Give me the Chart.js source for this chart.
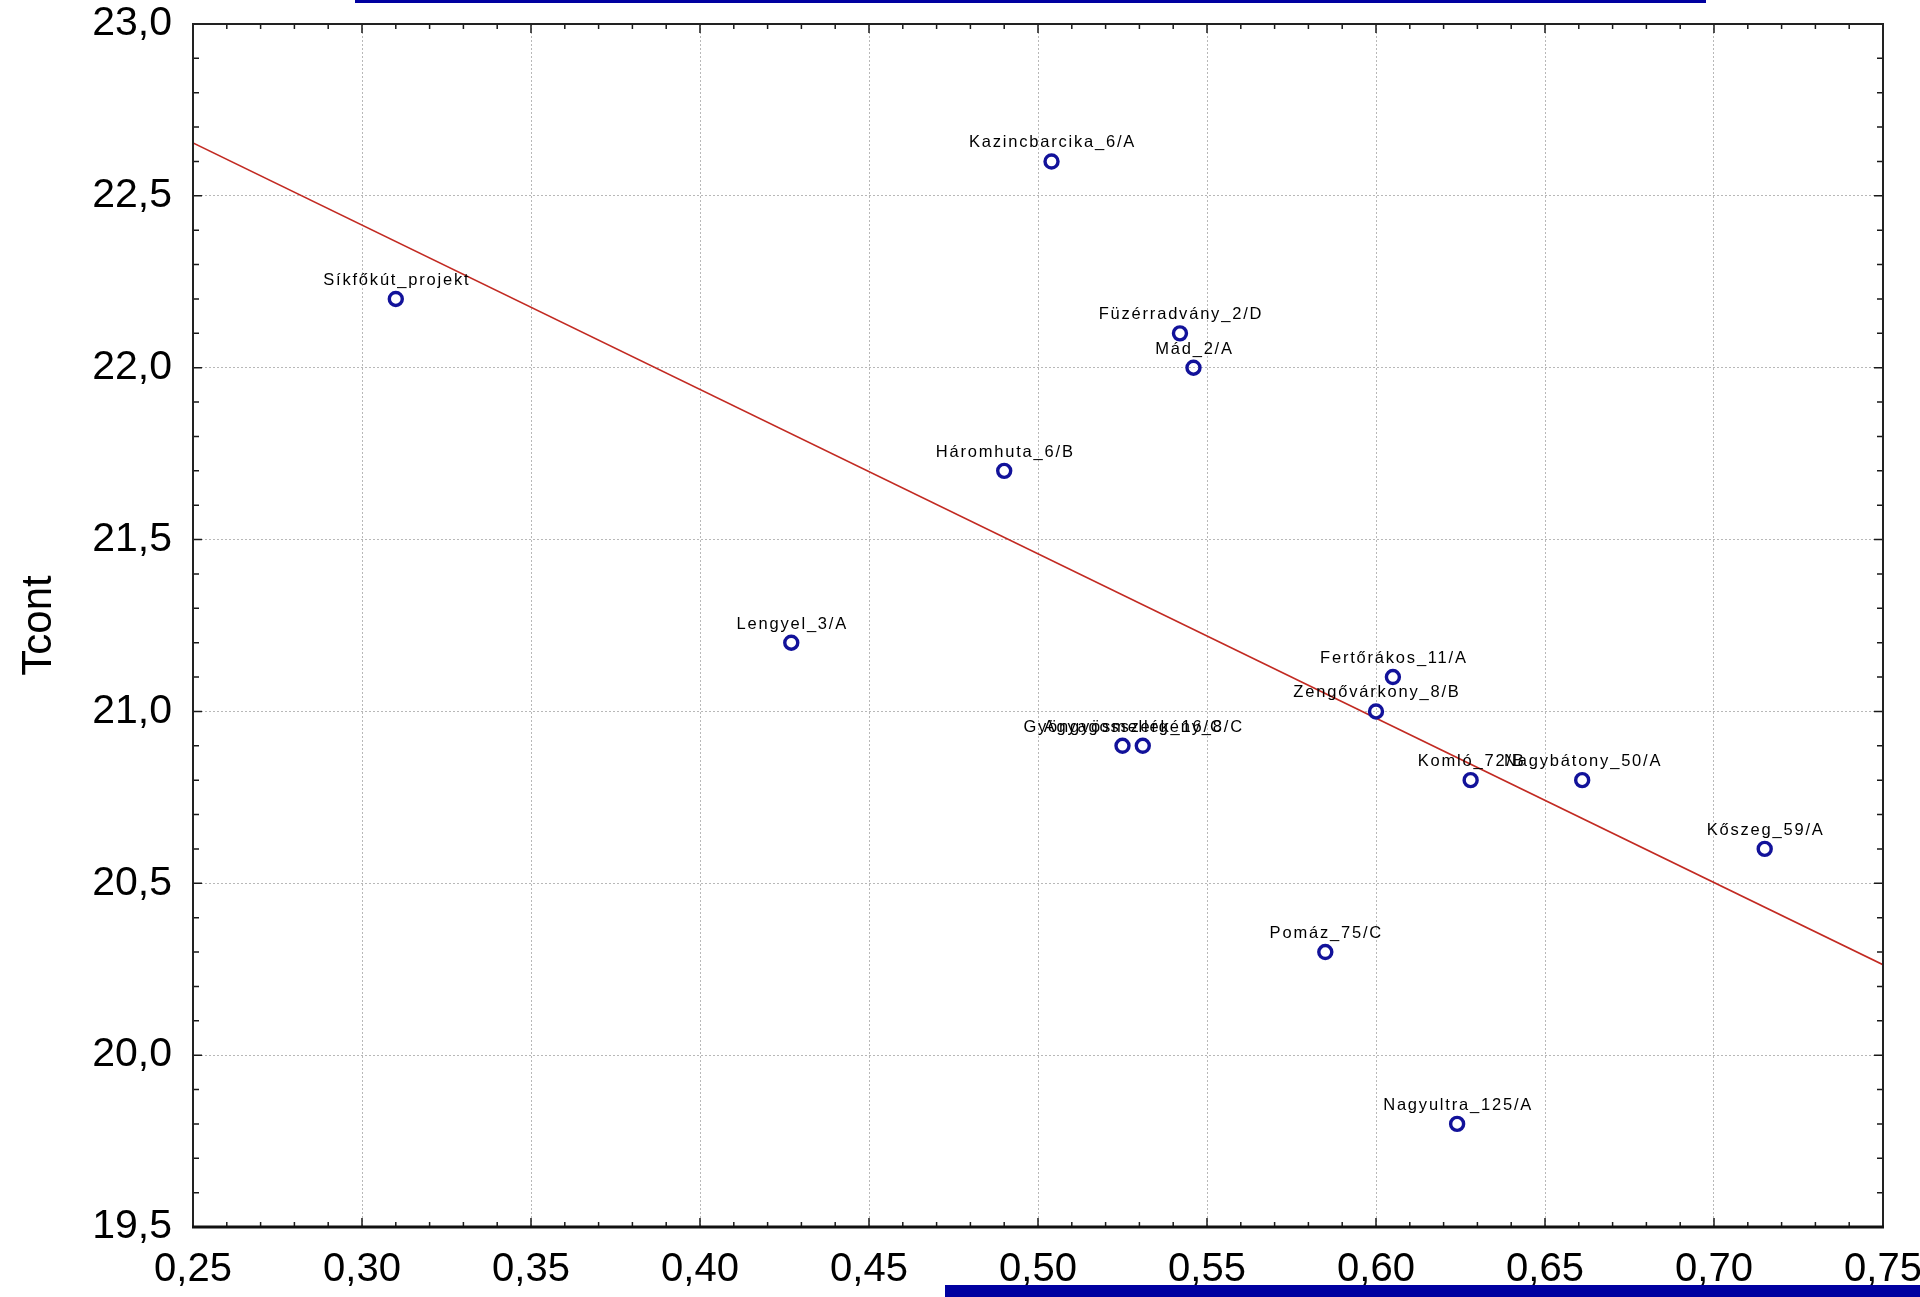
<!DOCTYPE html>
<html>
<head>
<meta charset="utf-8">
<script src="https://cdn.jsdelivr.net/npm/chart.js@4.4.1/dist/chart.umd.min.js"></script>
<style>
html,body{margin:0;padding:0;background:#fff;overflow:hidden;width:1920px;height:1297px}
#c{position:absolute;left:0;top:0}
.bar{position:absolute;background:#0000a0}
</style>
</head>
<body>
<canvas id="c" width="1920" height="1297"></canvas>
<div class="bar" style="left:355px;top:0;width:1351px;height:3px"></div>
<div class="bar" style="left:945px;top:1285px;width:975px;height:12px"></div>
<script>
// ---- data ----
const siteNames = [
  'Síkfőkút_projekt', 'Kazincbarcika_6/A', 'Füzérradvány_2/D', 'Mád_2/A',
  'Háromhuta_6/B', 'Lengyel_3/A', 'Fertőrákos_11/A', 'Zengővárkony_8/B',
  'Gyöngyösmellék_16/C', 'Agyagosszergény_8/C', 'Komló_72/B', 'Nagybátony_50/A',
  'Kőszeg_59/A', 'Pomáz_75/C', 'Nagyultra_125/A'
];
const xValues = [0.310, 0.504, 0.542, 0.546, 0.490, 0.427, 0.605, 0.600,
                 0.525, 0.531, 0.628, 0.661, 0.715, 0.585, 0.624];
const yValues = [22.2, 22.6, 22.1, 22.0, 21.7, 21.2, 21.1, 21.0,
                 20.9, 20.9, 20.8, 20.8, 20.6, 20.3, 19.8];
// fitted regression line (end points read at the plot edges)
const fitX = [0.25, 0.75];
const fitY = [22.654, 20.263];
// axes
const xAxisRange = [0.25, 0.75];
const xTickStep = 0.05;
const yAxisRange = [19.5, 23.0];
const yTickStep = 0.5;
const yTitle = 'Tcont';

const pointData = xValues.map((x, i) => ({ x: x, y: yValues[i] }));
const fitData = fitX.map((x, i) => ({ x: x, y: fitY[i] }));

const frameTicks = {
  id: 'frameTicks',
  afterDraw(chart) {
    const { ctx, chartArea: a, scales: { x, y } } = chart;
    ctx.save();
    ctx.strokeStyle = '#1a1a1a';
    ctx.lineWidth = 1.5;
    ctx.beginPath();
    const nx = Math.round((xAxisRange[1] - xAxisRange[0]) / 0.01);
    for (let i = 0; i <= nx; i++) {
      const px = x.getPixelForValue(xAxisRange[0] + i * 0.01);
      const len = i % 5 === 0 ? 9 : 5;
      ctx.moveTo(px, a.bottom); ctx.lineTo(px, a.bottom - len);
      ctx.moveTo(px, a.top); ctx.lineTo(px, a.top + len);
    }
    const ny = Math.round((yAxisRange[1] - yAxisRange[0]) / 0.1);
    for (let i = 0; i <= ny; i++) {
      const py = y.getPixelForValue(yAxisRange[0] + i * 0.1);
      const len = i % 5 === 0 ? 9 : 6;
      ctx.moveTo(a.left, py); ctx.lineTo(a.left + len, py);
      ctx.moveTo(a.right, py); ctx.lineTo(a.right - len, py);
    }
    ctx.stroke();
    ctx.lineWidth = 2;
    ctx.strokeStyle = '#222';
    ctx.strokeRect(a.left, a.top, a.right - a.left, a.bottom - a.top);
    ctx.lineWidth = 3;
    ctx.strokeStyle = '#111';
    ctx.beginPath();
    ctx.moveTo(a.left - 1, a.bottom); ctx.lineTo(a.right + 1, a.bottom);
    ctx.stroke();
    ctx.restore();
  }
};

const pointLabels = {
  id: 'pointLabels',
  afterDatasetsDraw(chart) {
    const ctx = chart.ctx;
    const meta = chart.getDatasetMeta(0);
    ctx.save();
    ctx.font = '16.5px "Liberation Sans", Arial, sans-serif';
    ctx.letterSpacing = '1.8px';
    ctx.fillStyle = '#000';
    ctx.textAlign = 'center';
    ctx.textBaseline = 'alphabetic';
    meta.data.forEach((el, i) => {
      ctx.fillText(siteNames[i], el.x + 1, el.y - 14);
    });
    ctx.restore();
  }
};

new Chart(document.getElementById('c'), {
  type: 'scatter',
  data: {
    datasets: [
      {
        label: 'Sites',
        data: pointData,
        pointStyle: 'circle',
        pointRadius: 6.5,
        pointBorderWidth: 3.4,
        borderColor: '#12129a',
        backgroundColor: 'rgba(255,255,255,0)',
        pointBackgroundColor: 'rgba(255,255,255,0)',
        pointBorderColor: '#12129a'
      },
      {
        label: 'Fit',
        data: fitData,
        showLine: true,
        pointRadius: 0,
        borderColor: '#c22a22',
        borderWidth: 1.7,
        backgroundColor: '#c22a22'
      }
    ]
  },
  options: {
    responsive: false,
    animation: false,
    devicePixelRatio: 1,
    layout: { padding: { left: 0, right: 37, top: 24, bottom: 0 } },
    plugins: { legend: { display: false }, tooltip: { enabled: false } },
    scales: {
      x: {
        type: 'linear',
        min: xAxisRange[0], max: xAxisRange[1],
        ticks: {
          stepSize: xTickStep, padding: 19, color: '#000',
          autoSkip: false, maxRotation: 0,
          font: { family: '"Liberation Sans", Arial, sans-serif', size: 40 },
          callback: v => v.toFixed(2).replace('.', ',')
        },
        grid: { color: '#b8b8b8', lineWidth: 1, drawTicks: false },
        border: { display: false, dash: [2, 2] },
        afterFit(s) { s.height = 70; s.paddingLeft = 0; s.paddingRight = 0; }
      },
      y: {
        type: 'linear',
        min: yAxisRange[0], max: yAxisRange[1],
        ticks: {
          stepSize: yTickStep, padding: 21, color: '#000',
          font: { family: '"Liberation Sans", Arial, sans-serif', size: 41 },
          callback: v => v.toFixed(1).replace('.', ',')
        },
        title: {
          display: true, text: yTitle, color: '#000',
          font: { family: '"Liberation Sans", Arial, sans-serif', size: 42 },
          padding: { top: 14, bottom: 0 }
        },
        grid: { color: '#b8b8b8', lineWidth: 1, drawTicks: false },
        border: { display: false, dash: [2, 2] },
        afterFit(s) { s.width = 193; s.paddingTop = 0; s.paddingBottom = 0; }
      }
    }
  },
  plugins: [pointLabels, frameTicks]
});
</script>
</body>
</html>
